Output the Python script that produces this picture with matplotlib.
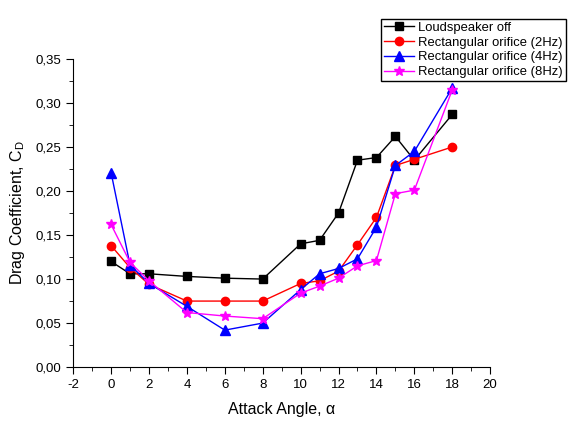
import matplotlib
matplotlib.use("Agg")
import matplotlib.pyplot as plt
from matplotlib.ticker import MultipleLocator, FuncFormatter

plt.rcParams['font.family'] = ['Liberation Sans', 'DejaVu Sans']
plt.rcParams['axes.unicode_minus'] = False

angle = [0, 1, 2, 4, 6, 8, 10, 11, 12, 13, 14, 15, 16, 18]
speaker_off = [0.120, 0.106, 0.106, 0.103, 0.101, 0.100, 0.140, 0.144, 0.175, 0.235, 0.238, 0.262, 0.235, 0.287]
orifice_2hz = [0.138, 0.113, 0.094, 0.075, 0.075, 0.075, 0.095, 0.098, 0.109, 0.139, 0.170, 0.229, 0.236, 0.250]
orifice_4hz = [0.221, 0.116, 0.095, 0.069, 0.042, 0.050, 0.088, 0.106, 0.112, 0.123, 0.159, 0.229, 0.245, 0.317]
orifice_8hz = [0.162, 0.119, 0.098, 0.062, 0.058, 0.055, 0.084, 0.092, 0.101, 0.115, 0.121, 0.197, 0.201, 0.315]

fig = plt.figure(figsize=(5.76, 4.21), dpi=100)
ax = fig.add_axes([0.127, 0.128, 0.724, 0.732])

ax.plot(angle, speaker_off, color='black', marker='s', markersize=5.2, lw=1, label='Loudspeaker off')
ax.plot(angle, orifice_2hz, color='red', marker='o', markersize=6, lw=1, label='Rectangular orifice (2Hz)')
ax.plot(angle, orifice_4hz, color='blue', marker='^', markersize=6.5, lw=1, label='Rectangular orifice (4Hz)')
ax.plot(angle, orifice_8hz, color='magenta', marker='*', markersize=7.5, lw=1, label='Rectangular orifice (8Hz)')

ax.set_xlim(-2, 20)
ax.set_ylim(0, 0.35)
ax.xaxis.set_major_locator(MultipleLocator(2))
ax.xaxis.set_minor_locator(MultipleLocator(1))
ax.yaxis.set_major_locator(MultipleLocator(0.05))
ax.yaxis.set_minor_locator(MultipleLocator(0.025))
ax.yaxis.set_major_formatter(FuncFormatter(lambda v, p: f"{v:.2f}".replace('.', ',')))
ax.spines['top'].set_visible(False)
ax.spines['right'].set_visible(False)
ax.tick_params(which='major', direction='out', length=5, labelsize=9.5)
ax.tick_params(which='minor', direction='out', length=3)

ax.set_xlabel('Attack Angle, α', fontsize=11.5, labelpad=8)
ax.set_ylabel('Drag Coefficient, C$_\\mathregular{D}$', fontsize=11.5, labelpad=6)

fig.legend(loc='upper left', bbox_to_anchor=(374 / 576, 1 - 12 / 421), fontsize=9.4,
           frameon=True, fancybox=False, edgecolor='black', framealpha=1,
           handlelength=2.3, borderpad=0.25, labelspacing=0.2, handletextpad=0.3)

fig.savefig('out.png', dpi=100)
